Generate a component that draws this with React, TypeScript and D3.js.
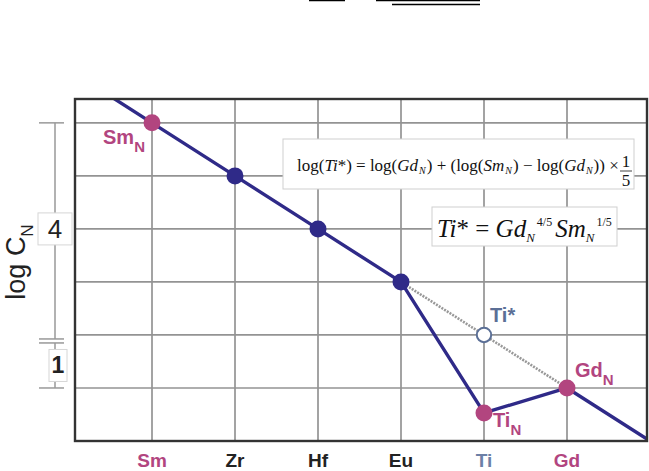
import React from "react";
import * as d3 from "d3";

// ---- data ----
const categories = ["Sm", "Zr", "Hf", "Eu", "Ti", "Gd"];
const categoryColors = ["#b2457f", "#222222", "#222222", "#222222", "#6c80a6", "#b2457f"];
const logCN = [6, 5, 4, 3, 0.53, 1]; // normalised log concentrations (relative units)
const pointKinds = ["anchor", "mid", "mid", "mid", "anomaly", "anchor"];
const tiStarValue = 2; // interpolated Ti*
const edgeBefore = 7; // continuation of pattern left of Sm (clipped)
const edgeAfter = 0; // continuation right of Gd (clipped)
const gridValues = [1, 2, 3, 4, 5, 6];
const yDomain = [0, 6.45];

const W = 649;
const H = 471;
const NAVY = "#2f2a88";
const MAG = "#b2457f";
const SLATE = "#5b6f96";
const SERIF = "'Liberation Serif', 'Times New Roman', serif";

export default function App() {
  const frame = { left: 75, right: 647, top: 99, bottom: 441 };
  const x = d3.scaleLinear().domain([0, 5]).range([152, 567]);
  const y = d3.scaleLinear().domain(yDomain).range([frame.bottom, frame.top]);

  const linePts: [number, number][] = [
    [-1, edgeBefore],
    ...logCN.map((v, i) => [i, v] as [number, number]),
    [6, edgeAfter],
  ];
  const line = d3
    .line<[number, number]>()
    .x((d) => x(d[0]))
    .y((d) => y(d[1]));

  const iTi = categories.indexOf("Ti");
  const iEu = categories.indexOf("Eu");
  const iGd = categories.indexOf("Gd");
  const iSm = categories.indexOf("Sm");
  const dashed: [number, number][] = [
    [iEu, logCN[iEu]],
    [iTi, tiStarValue],
    [iGd, logCN[iGd]],
  ];

  const axisX = 55;
  const yTop = y(6);
  const yBot = y(1);
  const yBreak = y(2);

  return (
    <svg
      width={W}
      height={H}
      style={{ position: "fixed", left: 0, top: 0, display: "block", background: "#fff" }}
      fontFamily="'Liberation Sans', Arial, sans-serif"
    >
      <defs>
        <clipPath id="plotclip">
          <rect x={frame.left} y={frame.top} width={frame.right - frame.left} height={frame.bottom - frame.top} />
        </clipPath>
      </defs>

      {/* cropped fraction bars from a formula above */}
      <g stroke="#000" strokeWidth={1.5}>
        <line x1={309} x2={345} y1={0.5} y2={0.5} />
        <line x1={376} x2={480} y1={0.5} y2={0.5} />
        <line x1={392} x2={480} y1={4.5} y2={4.5} />
      </g>

      {/* grid */}
      <g stroke="#939393" strokeWidth={1.7}>
        {gridValues.map((v) => (
          <line key={"h" + v} x1={frame.left} x2={frame.right} y1={y(v)} y2={y(v)} />
        ))}
        {categories.map((c, i) => (
          <line key={"v" + c} x1={x(i)} x2={x(i)} y1={frame.top} y2={frame.bottom} />
        ))}
      </g>

      {/* formula boxes */}
      <rect x={283} y={139} width={351} height={50} fill="#fff" stroke="#cfcfcf" strokeWidth={1} />
      <text x={297} y={171} fontFamily={SERIF} fontSize={17} fill="#111">
        log(<tspan fontStyle="italic">Ti</tspan>*) = log(<tspan fontStyle="italic">Gd</tspan>
        <tspan fontStyle="italic" fontSize={10} dy={3} dx={1}>N</tspan>
        <tspan dy={-3} dx={1}>) + (log(</tspan>
        <tspan fontStyle="italic">Sm</tspan>
        <tspan fontStyle="italic" fontSize={10} dy={3} dx={1}>N</tspan>
        <tspan dy={-3} dx={1}>) − log(</tspan>
        <tspan fontStyle="italic">Gd</tspan>
        <tspan fontStyle="italic" fontSize={10} dy={3} dx={1}>N</tspan>
        <tspan dy={-3} dx={1}>)) ×</tspan>
      </text>
      <text x={626} y={167} textAnchor="middle" fontFamily={SERIF} fontSize={17} fill="#111">1</text>
      <line x1={620} x2={632} y1={171} y2={171} stroke="#111" strokeWidth={0.8} />
      <text x={626} y={186} textAnchor="middle" fontFamily={SERIF} fontSize={17} fill="#111">5</text>

      <rect x={432} y={207} width={185} height={39} fill="#fff" stroke="#cfcfcf" strokeWidth={1} />
      <text x={437} y={237} fontFamily={SERIF} fontSize={25} fill="#111">
        <tspan fontStyle="italic">Ti</tspan>* = <tspan fontStyle="italic">Gd</tspan>
        <tspan fontStyle="italic" fontSize={13} dy={5}>N</tspan>
        <tspan fontSize={12} dy={-16} dx={2}>4/5</tspan>
        <tspan fontStyle="italic" dy={11} dx={3}>Sm</tspan>
        <tspan fontStyle="italic" fontSize={13} dy={5}>N</tspan>
        <tspan fontSize={12} dy={-16} dx={2}>1/5</tspan>
      </text>

      {/* data lines */}
      <g clipPath="url(#plotclip)">
        <path d={line(dashed) || ""} fill="none" stroke="#999" strokeWidth={2.6} strokeDasharray="2 1.2" />
        <path d={line(linePts) || ""} fill="none" stroke={NAVY} strokeWidth={3.4} strokeLinejoin="round" />
      </g>

      {/* frame */}
      <rect
        x={frame.left}
        y={frame.top}
        width={frame.right - frame.left}
        height={frame.bottom - frame.top}
        fill="none"
        stroke="#333"
        strokeWidth={2.4}
      />

      {/* points */}
      {logCN.map((v, i) => (
        <circle
          key={"p" + i}
          cx={x(i)}
          cy={y(v)}
          r={8.5}
          fill={pointKinds[i] === "mid" ? NAVY : MAG}
        />
      ))}
      <circle cx={x(iTi)} cy={y(tiStarValue)} r={7.2} fill="#fff" stroke={SLATE} strokeWidth={2} />

      {/* point labels */}
      <g fontWeight="bold" fontSize={20}>
        <text x={x(iSm) - 49} y={y(logCN[iSm]) + 21} fill={MAG}>
          Sm<tspan fontSize={15} dy={8}>N</tspan>
        </text>
        <text x={x(iTi) + 6} y={y(tiStarValue) - 13} fill={SLATE}>
          Ti*
        </text>
        <text x={x(iGd) + 8} y={y(logCN[iGd]) - 11} fill={MAG}>
          Gd<tspan fontSize={15} dy={8}>N</tspan>
        </text>
        <text x={x(iTi) + 9} y={y(logCN[iTi]) + 14} fill={MAG}>
          Ti<tspan fontSize={15} dy={8}>N</tspan>
        </text>
      </g>

      {/* category labels */}
      <g fontWeight="bold" fontSize={19} textAnchor="middle">
        {categories.map((c, i) => (
          <text key={"c" + c} x={x(i)} y={467} fill={categoryColors[i]}>
            {c}
          </text>
        ))}
      </g>

      {/* schematic y axis */}
      <g stroke="#999" strokeWidth={1.5}>
        <line x1={axisX} x2={axisX} y1={yTop} y2={yBreak + 4} />
        <line x1={axisX} x2={axisX} y1={yBreak + 8} y2={yBot} />
        <line x1={39} x2={64} y1={yTop} y2={yTop} />
        <line x1={39} x2={64} y1={yBot} y2={yBot} />
        <line x1={39} x2={64} y1={yBreak + 4} y2={yBreak + 4} />
        <line x1={39} x2={64} y1={yBreak + 8} y2={yBreak + 8} />
      </g>
      <rect x={38} y={(yTop + yBreak) / 2 - 16} width={34} height={32} fill="#fff" stroke="#d6d6d6" strokeWidth={1} />
      <text x={55} y={(yTop + yBreak) / 2 + 9} textAnchor="middle" fontSize={26} fill="#222">
        4
      </text>
      <rect x={49} y={(yBreak + 8 + yBot) / 2 - 16} width={18} height={32} fill="#fff" stroke="#d6d6d6" strokeWidth={1} />
      <text x={58} y={(yBreak + 8 + yBot) / 2 + 8} textAnchor="middle" fontSize={23} fontWeight="bold" fill="#222">
        1
      </text>

      <text transform="translate(25,262) rotate(-90)" textAnchor="middle" fontSize={27} fill="#222">
        log C<tspan fontSize={17} dy={8}>N</tspan>
      </text>
    </svg>
  );
}
